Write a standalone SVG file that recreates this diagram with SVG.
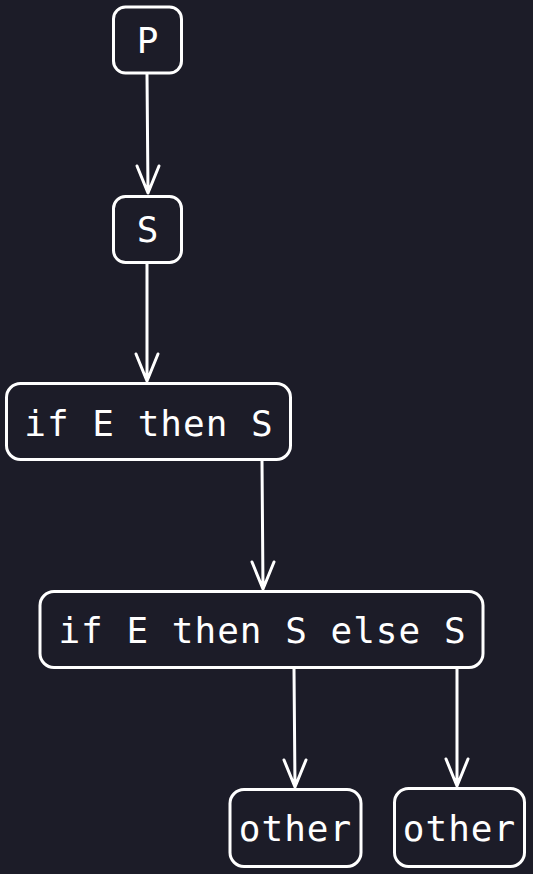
<svg xmlns="http://www.w3.org/2000/svg" width="533" height="874" viewBox="0 0 533 874">
<style>
.n{fill:#1c1c28;stroke:#ffffff;stroke-width:3}
.t{fill:#ffffff;font-family:"DejaVu Sans Mono",monospace;font-size:36px;text-anchor:middle;letter-spacing:1px}
.e{fill:none;stroke:#ffffff;stroke-width:3;stroke-linecap:round;stroke-linejoin:round}
</style>
<rect width="533" height="874" fill="#1c1c28"/>
<g id="connectors">
<path class="e" d="M147,74 L148,193 M137,166 L148,193 L159,166"/>
<path class="e" d="M147,264 L147,381 M136,354 L147,381 L158,354"/>
<path class="e" d="M262,461 L263,589 M252,562 L263,589 L274,562"/>
<path class="e" d="M294,669 L295,787 M284,760 L295,787 L306,760"/>
<path class="e" d="M457,669 L457,786 M446,759 L457,786 L468,759"/>
</g>
<g id="node-P"><rect class="n" x="113.5" y="7" width="68" height="66" rx="12"/><text class="t" x="148" y="53">P</text></g>
<g id="node-S"><rect class="n" x="113.5" y="196.5" width="68" height="66" rx="12"/><text class="t" x="148" y="242">S</text></g>
<g id="node-ifthen"><rect class="n" x="6.5" y="383.5" width="284" height="76" rx="14"/><text class="t" x="149" y="436">if E then S</text></g>
<g id="node-ifthenelse"><rect class="n" x="40" y="591.5" width="443" height="76" rx="14"/><text class="t" x="262.5" y="643">if E then S else S</text></g>
<g id="node-other1"><rect class="n" x="230" y="789.5" width="131" height="77" rx="14"/><text class="t" x="295.5" y="841">other</text></g>
<g id="node-other2"><rect class="n" x="394.5" y="788.5" width="130" height="78" rx="14"/><text class="t" x="459.5" y="841">other</text></g>
</svg>
